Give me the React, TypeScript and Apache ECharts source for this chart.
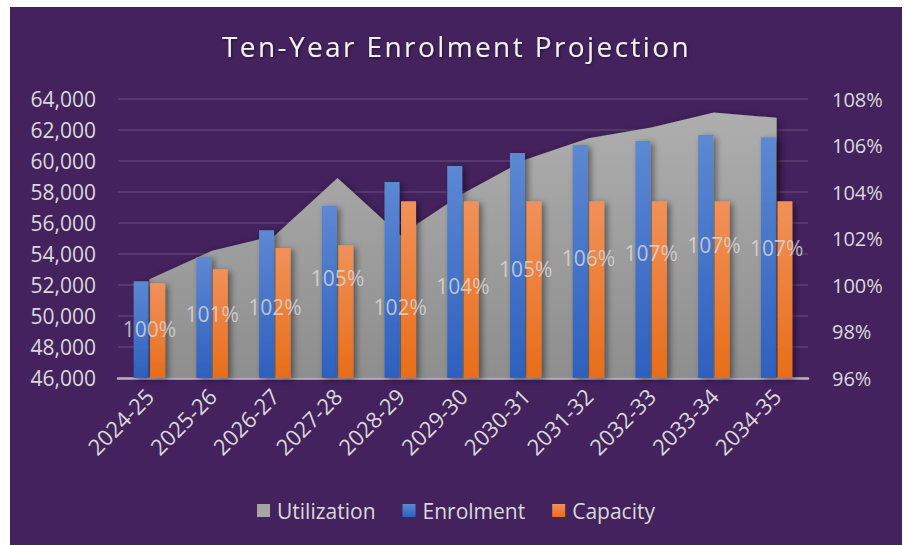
import React, { useEffect, useRef } from "react";
import * as echarts from "echarts";

const categories = ["2024-25", "2025-26", "2026-27", "2027-28", "2028-29", "2029-30", "2030-31", "2031-32", "2032-33", "2033-34", "2034-35"];
const enrolment = [52250, 53800, 55540, 57090, 58640, 59670, 60510, 61030, 61290, 61670, 61540];
const capacity = [52110, 53020, 54380, 54570, 57410, 57410, 57410, 57410, 57410, 57410, 57410];
const utilization = [100.25, 101.47, 102.13, 104.6, 102.14, 103.94, 105.4, 106.31, 106.77, 107.42, 107.19];
const leftTicks = { min: 46000, max: 64000, interval: 2000 };
const rightTicks = { min: 96, max: 108, interval: 2 };
const TITLE = "Ten-Year Enrolment Projection";

const FONT = "'Open Sans', 'Noto Sans', sans-serif";
const TXT = "#D9D9D9";

export default function App() {
  const ref = useRef<HTMLDivElement>(null);
  useEffect(() => {
    document.body.style.margin = "0";
    const chart = echarts.init(ref.current!, null, { renderer: "svg" });
    const labelPos = utilization.map((v) => (v + rightTicks.min) / 2);
    const spaceTitle = () => {
      const texts = ref.current?.querySelectorAll("text") || [];
      texts.forEach((t) => {
        if (t.textContent === TITLE) t.setAttribute("letter-spacing", "2.4px");
      });
    };
    chart.on("finished", spaceTitle);
    chart.setOption({
      animation: false,
      backgroundColor: "#44225E",
      textStyle: { fontFamily: FONT },
      title: {
        text: TITLE,
        left: 207,
        top: 20,
        textStyle: {
          color: "#F2F2F2",
          fontSize: 28,
          fontWeight: "normal",
          fontFamily: FONT,
          textShadowColor: "rgba(0,0,0,0.5)",
          textShadowBlur: 3,
          textShadowOffsetX: 1,
          textShadowOffsetY: 1,
        },
      },
      legend: {
        data: ["Utilization", "Enrolment", "Capacity"],
        left: "center",
        top: 488,
        icon: "rect",
        itemWidth: 13,
        itemHeight: 13,
        itemGap: 27,
        textStyle: { color: TXT, fontSize: 21, fontFamily: FONT, padding: [0, 0, 0, 2] },
      },
      grid: { left: 108, right: 94, top: 92, bottom: 167, containLabel: false },
      xAxis: {
        type: "category",
        data: categories,
        boundaryGap: true,
        axisLine: { show: true, lineStyle: { color: "#B9B0C4", width: 2.5 } },
        axisTick: { show: false },
        axisLabel: { rotate: 45, color: TXT, fontSize: 22, fontFamily: FONT, margin: 14, interval: 0 },
      },
      yAxis: [
        {
          type: "value",
          min: leftTicks.min,
          max: leftTicks.max,
          interval: leftTicks.interval,
          axisLine: { show: false },
          axisTick: { show: false },
          axisLabel: {
            color: TXT,
            fontSize: 21,
            fontFamily: FONT,
            margin: 22,
            formatter: (v: number) => v.toLocaleString("en-US"),
          },
          splitLine: { show: true, lineStyle: { color: "rgba(255,255,255,0.14)", width: 1.5 } },
        },
        {
          type: "value",
          min: rightTicks.min,
          max: rightTicks.max,
          interval: rightTicks.interval,
          axisLine: { show: false },
          axisTick: { show: false },
          splitLine: { show: false },
          axisLabel: {
            color: TXT,
            fontSize: 20,
            fontFamily: FONT,
            margin: 24,
            formatter: (v: number) => v + "%",
          },
        },
      ],
      series: [
        {
          name: "Utilization",
          type: "line",
          yAxisIndex: 1,
          data: utilization,
          symbol: "none",
          lineStyle: { width: 0 },
          itemStyle: { color: "#A5A5A5" },
          areaStyle: {
            origin: "start",
            opacity: 1,
            color: new echarts.graphic.LinearGradient(0, 0, 0, 1, [
              { offset: 0, color: "#AEAEAE" },
              { offset: 1, color: "#8E8E8E" },
            ]),
            shadowColor: "rgba(0,0,0,0.45)",
            shadowBlur: 8,
            shadowOffsetX: 2,
            shadowOffsetY: 2,
          },
          z: 1,
        },
        {
          name: "Enrolment",
          type: "bar",
          data: enrolment,
          barWidth: 15,
          barGap: "10%",
          itemStyle: {
            color: new echarts.graphic.LinearGradient(0, 0, 0, 1, [
              { offset: 0, color: "#5D88D2" },
              { offset: 1, color: "#2E60BE" },
            ]),
            shadowColor: "rgba(0,0,0,0.45)",
            shadowBlur: 6,
            shadowOffsetX: 3,
            shadowOffsetY: 2,
          },
          z: 2,
        },
        {
          name: "Capacity",
          type: "bar",
          data: capacity,
          barWidth: 15,
          barGap: "10%",
          itemStyle: {
            color: new echarts.graphic.LinearGradient(0, 0, 0, 1, [
              { offset: 0, color: "#F0915A" },
              { offset: 1, color: "#E86D19" },
            ]),
            shadowColor: "rgba(0,0,0,0.45)",
            shadowBlur: 6,
            shadowOffsetX: 3,
            shadowOffsetY: 2,
          },
          z: 2,
        },
        {
          name: "UtilLabels",
          type: "scatter",
          yAxisIndex: 1,
          data: labelPos,
          symbolSize: 0,
          silent: true,
          z: 5,
          label: {
            show: true,
            position: "inside",
            color: "#DCDCDC",
            fontSize: 21,
            fontFamily: FONT,
            formatter: (p: any) => Math.round(utilization[p.dataIndex]) + "%",
          },
        },
      ],
    });
    spaceTitle();
    return () => chart.dispose();
  }, []);
  return (
    <div style={{ position: "relative", width: 906, height: 545, background: "#fff", overflow: "hidden" }}>
      <div ref={ref} style={{ position: "absolute", left: 10, top: 7, width: 892, height: 538 }} />
    </div>
  );
}
